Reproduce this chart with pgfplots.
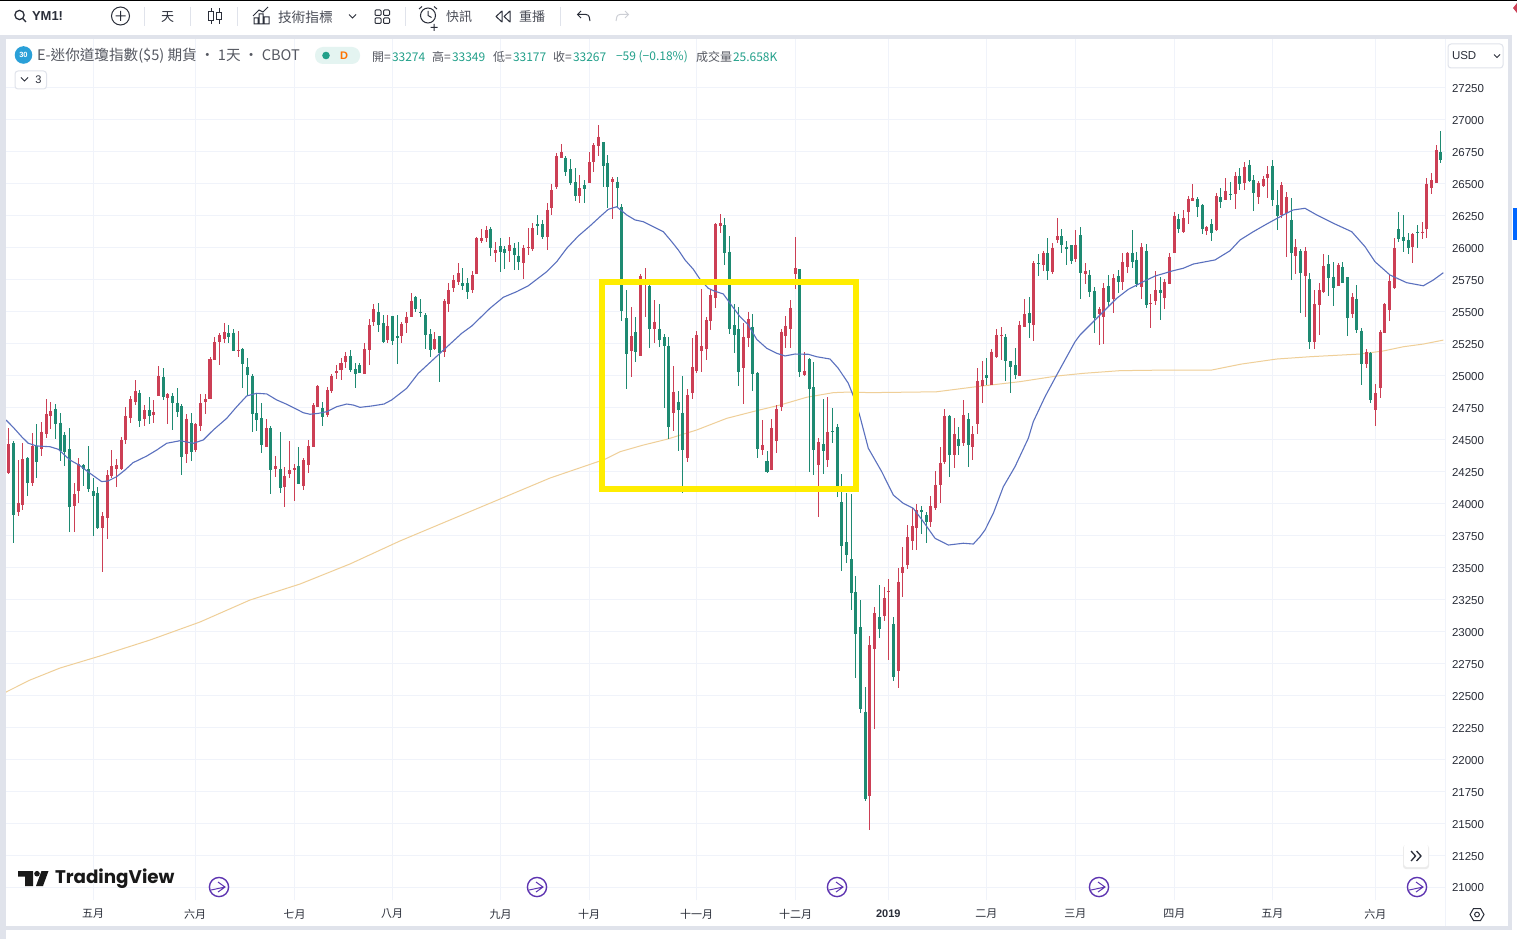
\documentclass[border=0pt]{standalone}
\usepackage{fontspec}
\usepackage{pgfplots}
\usepackage{pgfplotstable}
\pgfplotsset{compat=1.18}
\setmainfont{Liberation Sans}
\newfontfamily\cjk{Noto Sans CJK TC}
\newfontfamily\logofont{Poppins}
\definecolor{upred}{HTML}{CC3F55}
\definecolor{dngreen}{HTML}{1E8A72}
\definecolor{maBlue}{HTML}{5A70BE}
\definecolor{maTan}{HTML}{EFCF98}
\definecolor{gridc}{HTML}{F0F3FA}
\definecolor{band}{HTML}{E0E3EB}
\definecolor{ink}{HTML}{2A2E39}
\definecolor{purp}{HTML}{5E35B1}
\definecolor{valc}{HTML}{22A08A}
\definecolor{sepc}{HTML}{E0E3EB}
\definecolor{badge}{HTML}{2AA0D8}

% x hi top bot lo, x is the pixel column of the bar
\pgfplotstableread{
x hi top bot lo
8.3 24588 24465 24236 24230
18.3 24340 24006 23936 23902
22.7 24470 24348 23988 23949
32.3 24548 24449 24157 24136
41.7 24637 24561 24426 24374
46.3 24817 24700 24543 24509
50.7 24796 24723 24684 24580
74.3 24157 24074 23980 23779
78.7 24353 24309 24097 24001
102.3 23936 23902 23808 23467
107.3 24262 24223 23889 23719
111.7 24418 24293 24215 24196
116.7 24345 24301 24267 24131
121.7 24522 24496 24267 24262
125.7 24757 24684 24496 24465
130.3 24840 24817 24666 24627
135.3 24966 24880 24796 24770
144.3 24770 24731 24660 24606
153.3 24809 24713 24692 24627
158.3 25075 24997 24843 24843
167.7 24861 24853 24827 24621
186.7 24700 24663 24387 24319
195.7 24627 24621 24418 24405
200.7 24856 24783 24606 24569
205.3 24856 24817 24796 24700
210 25148 25127 24814 24814
214.7 25304 25260 25122 25122
219.7 25336 25317 25265 25083
224.3 25409 25338 25286 25252
238.3 25349 25200 25195 25148
266.3 24658 24590 24444 24439
275.3 24371 24293 24270 24210
284.7 24288 24215 24126 23975
289.3 24488 24262 24231 24202
294.3 24309 24278 24262 24022
303.7 24353 24340 24139 24105
308.3 24496 24449 24301 24236
313.3 24783 24770 24444 24444
317.7 24926 24919 24757 24752
327.3 24913 24887 24692 24679
331.7 25012 24997 24882 24866
336.3 25083 25036 25018 24971
341 25136 25096 25045 24966
345.3 25188 25154 25104 25058
364.3 25258 25211 25013 25013
369.3 25441 25396 25201 25084
373.3 25561 25521 25423 25391
387.7 25475 25389 25279 25253
401.7 25423 25404 25310 25258
406.7 25498 25462 25415 25331
411.3 25649 25587 25456 25456
434.3 25344 25287 25206 25201
444.3 25597 25587 25188 25143
448.7 25722 25670 25561 25501
453.3 25787 25748 25683 25657
458.3 25879 25800 25735 25709
472.3 25819 25787 25670 25649
476.7 26082 26074 25795 25795
481.3 26145 26074 26056 26040
486.3 26170 26139 26074 26048
495.3 26043 25983 25962 25892
509.7 26087 26022 25975 25892
523.3 26022 25996 25879 25756
528.3 26152 26004 25996 25944
532.7 26191 26155 25988 25978
547.7 26348 26296 26087 25983
551.7 26497 26452 26309 26257
556.7 26739 26718 26478 26457
561.7 26812 26747 26705 26705
579.7 26569 26465 26405 26353
589.7 26752 26669 26510 26504
593.7 26822 26804 26674 26595
598.7 26961 26869 26796 26718
612.7 26556 26538 26512 26223
631.3 25534 25310 25196 24987
640.3 25795 25780 25157 25157
645.3 25840 25722 25710 25456
654.3 25592 25422 25365 25258
673.3 25075 24875 24711 24570
687.3 24893 24849 24359 24327
692.3 25292 25065 24867 24818
696.7 25349 25318 25039 25024
701.3 25678 25232 25196 25031
706.7 25456 25435 25209 25123
710.3 25670 25631 25430 25357
715.3 26197 26186 25610 25532
720.3 26264 26192 26171 26113
743.3 25415 25305 25063 24778
748.3 25495 25443 25297 25227
762.3 24653 24458 24419 24380
771.3 24659 24591 24262 24262
776.3 24771 24737 24492 24398
781.7 25365 25344 24752 24726
785.3 25469 25389 25313 25214
790.3 25592 25532 25365 25214
795.3 26082 25840 25795 25678
804.3 25183 25037 25005 24997
818.3 24510 24479 24301 23892
827.3 24836 24557 24340 24288
869.3 22964 22893 21713 21447
874.3 23188 23141 22862 22236
884.3 23345 23259 23120 23084
888.3 23410 23316 23311 22776
898.3 23493 23386 22693 22560
902.3 23662 23506 23459 23271
907.3 23832 23736 23519 23487
912.3 23962 23825 23710 23637
916.3 23994 23949 23811 23637
930.3 24061 23981 23858 23819
935.3 24254 24145 23962 23949
940.3 24440 24314 24145 24007
944.3 24740 24685 24328 24307
954.3 24666 24544 24380 24275
963.3 24810 24692 24471 24450
972.7 24607 24544 24445 24341
977.3 25057 24958 24622 24541
982.3 25118 24966 24919 24789
991.3 25209 25188 24927 24927
996.3 25362 25318 25149 25141
1001.3 25383 25318 25313 25123
1019.3 25430 25396 25000 25000
1024.3 25600 25482 25383 25378
1033.3 25897 25879 25399 25274
1043.3 25975 25962 25866 25821
1052.3 26035 26001 25813 25795
1057.3 26231 26092 26061 26040
1075.3 26139 26022 25910 25892
1085.3 25879 25819 25795 25717
1099.3 25540 25521 25480 25240
1103.3 25722 25683 25462 25248
1113.3 25795 25761 25600 25493
1122.3 25957 25886 25735 25670
1127.3 25970 25962 25847 25806
1141.3 26035 26004 25691 25600
1150.3 25636 25568 25563 25375
1155.3 25819 25670 25587 25553
1164.3 25753 25735 25610 25521
1169.3 25957 25931 25720 25720
1174.3 26277 26249 25962 25962
1183.3 26296 26231 26126 26118
1188.3 26405 26385 26278 26186
1192.3 26499 26387 26366 26366
1206.7 26171 26160 26134 26100
1216.7 26431 26405 26137 26132
1225.7 26544 26444 26374 26374
1235.7 26590 26564 26421 26304
1244.3 26674 26635 26510 26452
1258.3 26525 26510 26395 26343
1263.3 26562 26536 26483 26478
1267.7 26643 26577 26546 26387
1281.7 26517 26491 26257 26231
1286.7 26439 26395 26270 25931
1295.7 26066 26006 25939 25796
1305.3 26004 25978 25780 25462
1314.3 25670 25561 25266 25209
1319.3 25722 25670 25553 25318
1323.3 25949 25858 25657 25649
1338.3 25884 25866 25704 25704
1352.3 25649 25618 25482 25454
1366.3 25206 25188 25088 25058
1375.3 24933 24862 24732 24609
1380.3 25357 25344 24901 24823
1384.3 25571 25558 25336 25331
1389.3 25795 25741 25514 25428
1394.3 26074 25996 25683 25678
1412.7 26118 26108 26006 25884
1422.3 26205 26126 26118 26066
1426.7 26544 26499 26147 26074
1431.7 26583 26530 26465 26421
1436.7 26804 26765 26510 26504
}\redbars

\pgfplotstableread{
x hi top bot lo
13.3 24491 24475 23910 23693
27.3 24366 24358 24157 24058
36.7 24619 24449 24324 24196
55.3 24775 24741 24621 24501
60.3 24705 24632 24410 24335
64.3 24561 24538 24405 24293
69.3 24587 24426 23975 23779
83.3 24309 24303 24267 24136
88.3 24449 24270 24110 24092
93.3 24196 24097 24058 23748
97.7 24131 24084 23805 23797
139.3 24887 24866 24645 24601
149.3 24830 24731 24687 24621
163.3 25057 24992 24830 24809
172.3 24861 24840 24788 24574
177.3 24900 24788 24718 24674
181.7 24775 24762 24366 24222
191.3 24705 24627 24405 24335
228.7 25396 25330 25304 25252
233.3 25362 25336 25195 25195
242.3 25218 25211 25091 24900
247.3 25135 25067 25005 24840
252.3 25012 24997 24700 24561
256.3 24861 24705 24653 24569
261.3 24783 24666 24457 24397
270.3 24606 24590 24262 24074
280.3 24556 24270 24118 24079
298.3 24444 24293 24152 24149
322.3 24796 24744 24679 24608
350.3 25201 25154 25045 25032
355.3 25102 25053 25013 24906
359.7 25097 25081 25018 25018
378.3 25566 25498 25396 25344
383.3 25475 25410 25266 25258
392.3 25467 25467 25271 25240
397.3 25475 25310 25297 25089
415.7 25623 25618 25519 25501
420.3 25597 25498 25488 25456
425.3 25493 25475 25318 25209
430.3 25362 25326 25201 25143
439.3 25310 25310 25175 24953
462.3 25840 25722 25704 25670
467.3 25761 25728 25655 25602
490.3 26160 26150 25996 25939
500.3 26074 26014 25965 25813
504.7 26014 25988 25962 25834
514.3 26035 25996 25944 25827
518.7 26048 25936 25892 25827
537.7 26257 26184 26173 26100
542.7 26218 26184 26082 26066
565.7 26718 26705 26590 26562
570.7 26692 26617 26504 26491
575.7 26622 26515 26405 26366
584.7 26530 26491 26460 26348
603.7 26830 26825 26640 26478
607.7 26726 26661 26478 26309
617.7 26551 26517 26470 26317
621.7 26340 26319 25506 25430
626.7 25670 25449 25170 24893
635.7 25462 25339 25188 25110
649.7 25709 25704 25365 25214
659.3 25561 25365 25279 25222
664.3 25323 25300 25235 24745
668.3 25305 25235 24596 24505
678.3 24880 24797 24732 24413
682.7 25000 24711 24419 24085
724.7 26231 26178 25962 25866
729.3 26092 25970 25365 25326
734.3 25561 25396 25318 25180
738.7 25534 25365 25029 24919
752.7 25480 25383 25013 24883
757.3 25031 25023 24427 24354
767 24414 24333 24244 24236
799.3 25832 25832 25031 24992
809.7 25136 25130 24898 24249
813.3 25104 24909 24419 24223
823.3 24818 24466 24413 24228
832.3 24745 24567 24562 24471
837.3 24622 24596 24137 24053
841.7 24231 24012 23670 23475
846.3 24080 23696 23597 23532
851.3 24072 23564 23303 23167
855.3 23433 23306 22980 22638
860.3 23245 23034 22390 22364
865.3 22562 22370 21689 21676
879.3 23363 23110 23019 22951
893.3 23115 23058 22646 22615
921.3 23983 23949 23936 23762
926.3 23936 23910 23858 23694
949.3 24693 24687 24380 24210
958.3 24601 24505 24453 24380
968.3 24706 24661 24458 24283
986.3 25136 25005 24984 24927
1005.7 25323 25305 25115 24958
1010.3 25115 25112 25070 24862
1015.3 25214 25083 25005 24974
1029.3 25613 25488 25415 25297
1038.3 25952 25879 25871 25780
1047.3 26074 25957 25821 25748
1061.3 26147 26092 26022 25957
1066.3 26053 26009 25991 25866
1071.3 26022 26019 25897 25873
1080.3 26160 26100 25806 25600
1089.3 25827 25787 25657 25618
1094.3 25696 25662 25449 25336
1108.3 25787 25701 25579 25535
1118.3 25827 25780 25735 25649
1132.3 26139 25957 25892 25840
1136.3 25970 25905 25717 25696
1146.3 26027 25975 25553 25527
1160.3 25769 25670 25649 25435
1178.3 26265 26225 26145 26118
1197.3 26400 26379 26317 26244
1202.3 26343 26335 26150 26105
1211.7 26223 26186 26119 26056
1220.7 26465 26397 26361 26309
1230.7 26517 26421 26413 26374
1239.7 26622 26564 26499 26452
1249.3 26687 26648 26525 26517
1253.7 26570 26530 26429 26291
1272.3 26687 26640 26374 26330
1277.3 26452 26335 26249 26140
1291.7 26387 26218 25962 25749
1300.7 25988 25978 25806 25493
1309.7 25806 25754 25266 25209
1328.3 25944 25873 25767 25623
1333.3 25892 25775 25688 25548
1342.3 25892 25852 25727 25722
1347.3 25775 25769 25454 25313
1356.3 25709 25600 25357 25331
1361.3 25370 25352 25091 24927
1370.3 25188 25175 24810 24789
1398.3 26278 26147 26069 26048
1403.3 26257 26087 26053 25970
1408.3 26113 26061 25996 25952
1417.3 26176 26126 26118 26001
1440.3 26914 26747 26687 26666
}\greenbars

\pgfdeclareplotmark{evt}{%
  \pgfsetlinewidth{1.4pt}
  \pgfpathcircle{\pgfpointorigin}{9.6pt}\pgfusepathqstroke
  \pgfsetlinewidth{1pt}
  \pgfpathmoveto{\pgfpoint{-8pt}{-3pt}}\pgfpathlineto{\pgfpoint{6pt}{0pt}}
  \pgfpathmoveto{\pgfpoint{-1pt}{5pt}}\pgfpathlineto{\pgfpoint{6pt}{0pt}}\pgfpathlineto{\pgfpoint{-1pt}{-5pt}}
  \pgfusepathqstroke
}

\begin{document}
\begin{tikzpicture}[x=1pt,y=-1pt,every node/.style={inner sep=0pt,outer sep=0pt}]
\useasboundingbox (0,0) rectangle (1517,939);
\fill[white] (0,0) rectangle (1517,939);
\begin{axis}[
    at={(6pt,-900pt)}, anchor=south west,
    scale only axis, width=1439pt, height=862pt,
    xmin=6, xmax=1445, ymin=20898.5, ymax=27641,
    axis line style={draw=none},
    major tick length=0pt,
    grid=major, grid style={gridc, line width=1pt},
    ytick={21000,21250,21500,21750,22000,22250,22500,22750,23000,23250,23500,23750,24000,24250,24500,24750,25000,25250,25500,25750,26000,26250,26500,26750,27000,27250},
    yticklabel pos=right,
    y tick label style={font=\fontsize{11.5}{12}\selectfont, text=ink, anchor=west, xshift=7pt, yshift=-1pt},
    /pgf/number format/assume math mode=true,
    /pgf/number format/1000 sep={},
    scaled y ticks=false,
    xtick={93,195,294.5,392,500.5,589,696.7,795.5,888.3,986.3,1075.3,1174.3,1272.3,1375.3},
    xticklabels={五月,六月,七月,八月,九月,十月,十一月,十二月,{\fontspec{Liberation Sans}\bfseries 2019},二月,三月,四月,五月,六月},
    x tick label style={font=\cjk\fontsize{11}{12}\selectfont, text=ink, anchor=center, yshift=-14pt},
]
% tan long average
\addplot[maTan, line width=1pt, no marks] coordinates {
(6,22525) (30,22619) (60,22713) (100,22807) (150,22932) (200,23073) (250,23245) (300,23370)
(350,23527) (400,23707) (450,23871) (500,24035) (550,24199) (605,24346) (620,24405) (643.3,24457)
(666.7,24502) (696.7,24575) (726.7,24666) (756.7,24726) (780,24770) (806.7,24831) (833.3,24867)
(850,24872) (870,24867) (920,24872) (936.7,24874) (976.7,24914) (1020,24953) (1056.7,24997)
(1083.3,25018) (1120,25039) (1170,25044) (1211.7,25044) (1241.7,25091) (1276.7,25130) (1310,25148)
(1360,25169) (1383.3,25193) (1403.3,25226) (1423.3,25247) (1443.3,25278)
};
% wicks
\addplot[no marks, draw=none, error bars/.cd, y dir=both, y explicit, error mark=none,
    error bar style={draw=upred, line width=1pt}]
    table[x=x, y=top, y error plus expr=\thisrow{hi}-\thisrow{top}, y error minus expr=\thisrow{top}-\thisrow{lo}] {\redbars};
\addplot[no marks, draw=none, error bars/.cd, y dir=both, y explicit, error mark=none,
    error bar style={draw=dngreen, line width=1pt}]
    table[x=x, y=top, y error plus expr=\thisrow{hi}-\thisrow{top}, y error minus expr=\thisrow{top}-\thisrow{lo}] {\greenbars};
% bodies
\addplot[no marks, draw=none, error bars/.cd, y dir=minus, y explicit, error mark=none,
    error bar style={draw=upred, line width=3.2pt}]
    table[x=x, y=top, y error minus expr=\thisrow{top}-\thisrow{bot}] {\redbars};
\addplot[no marks, draw=none, error bars/.cd, y dir=minus, y explicit, error mark=none,
    error bar style={draw=dngreen, line width=3.2pt}]
    table[x=x, y=top, y error minus expr=\thisrow{top}-\thisrow{bot}] {\greenbars};
% blue average
\addplot[maBlue, line width=1.1pt, no marks] coordinates {
(6,24653) (13,24598) (21.7,24522) (28.3,24471) (36.7,24450) (50,24444) (58.3,24424) (70,24340)
(80,24296) (90,24236) (101.7,24171) (108,24176) (116.7,24210) (125,24262) (133,24319) (146.7,24371)
(156.7,24418) (166.7,24471) (180,24491) (193.3,24471) (203.3,24497) (213.3,24575) (226.7,24666)
(236.7,24757) (246.7,24841) (256.7,24862) (266.7,24857) (276.7,24810) (286.7,24776) (296.7,24737)
(303.3,24710) (310,24698) (318.3,24705) (326.7,24718) (336.7,24757) (346.7,24778) (353.3,24770)
(360,24752) (372,24763) (384,24778) (391.7,24810) (406.7,24901) (418.3,25018) (440,25175)
(461.7,25331) (471.7,25388) (490,25527) (503.3,25613) (516.7,25657) (528.3,25703) (546.7,25813)
(556.7,25891) (566.7,25996) (578.3,26092) (590,26171) (600,26243) (608.3,26301) (616.7,26321)
(626.7,26257) (635,26218) (643.3,26204) (653.3,26165) (663.3,26126) (671.7,26048) (678.3,25983)
(685,25905) (693.3,25832) (700,25754) (708.3,25683) (713.3,25665) (723.3,25639) (730,25566)
(740,25461) (748.3,25396) (756.7,25284) (766.7,25214) (776.7,25175) (785,25154) (795,25169)
(808.3,25167) (816.7,25148) (830,25130) (838.3,25057) (848.3,24940) (855,24809) (860,24679)
(868.3,24432) (881.7,24249) (893.3,24066) (903.3,24001) (913.3,23962) (923.3,23858) (935,23728)
(948.3,23675) (963.3,23689) (973.3,23683) (980,23740) (985,23793) (993.3,23923) (1003.3,24131)
(1015,24288) (1028.3,24510) (1033.3,24640) (1045,24835) (1056.7,25005) (1075,25265) (1080,25318)
(1093.3,25422) (1106.7,25527) (1116.7,25605) (1128.3,25675) (1143.3,25735) (1155,25779) (1173.3,25821)
(1183.3,25840) (1193.3,25873) (1215,25905) (1230,25977) (1240,26061) (1253.3,26126) (1266.7,26186)
(1283.3,26257) (1293.3,26296) (1305,26309) (1316.7,26257) (1333.3,26192) (1351.7,26126) (1365,26009)
(1375,25891) (1390,25787) (1406.7,25727) (1423.3,25703) (1433.3,25748) (1443.3,25805)
};
% event markers on the bottom row
\addplot[only marks, mark=evt, purp] coordinates {(219,21000) (537,21000) (837,21000) (1099,21000) (1417,21000)};
\end{axis}

% highlighted box
\draw[yellow!95!orange, line width=5.6pt, line join=miter] (602,282) rectangle (856,489);

% frame bands
\fill[black] (0,0) rectangle (1517,1.5);
\fill[band] (0,35) rectangle (1512,39);
\fill[band] (0,39) rectangle (5.5,939);
\fill[band] (1508,39) rectangle (1512,928);
\fill[band] (5,926) rectangle (1512,929.5);
\draw[gridc, line width=1pt] (1445,39) -- (1445,926);

% toolbar
\draw[ink, line width=1.3pt] (19.5,15) circle (4.6) (22.8,18.5) -- (26,22);
\node[anchor=west, font=\fontsize{13}{14}\selectfont\bfseries, text=ink] at (32,16.5) {YM1!};
\draw[ink, line width=1pt] (120.5,16) circle (9) (115.5,16) -- (125.5,16) (120.5,11) -- (120.5,21);
\foreach \sx in {144,190,237,405.6,560} \draw[sepc, line width=1pt] (\sx,7) -- (\sx,26);
\node[font=\cjk\fontsize{13}{14}\selectfont, text=ink] at (167.5,17) {天};
\draw[ink, line width=1pt] (211,8.5) -- (211,24) (219,8.5) -- (219,24);
\draw[ink, fill=white, line width=1pt] (208.5,11.5) rectangle (213.5,20.5) (216.5,13) rectangle (221.5,20);
\draw[ink, line width=1pt] (254,24) rectangle (258,18) (259,24) rectangle (263,14) (264,24) rectangle (269,17)
    (253,16) -- (259,10) -- (263,12) -- (268,7);
\node[anchor=west, font=\cjk\fontsize{13.7}{14}\selectfont, text=ink!85] at (278,17) {技術指標};
\draw[ink, line width=1pt] (349,14.5) -- (352.5,18) -- (356,14.5);
\draw[ink, line width=1pt, rounded corners=1pt] (375,10) rectangle (381,15.5) (383.5,10) rectangle (389.5,15.5) (375,18) rectangle (381,23.5) (383.5,18) rectangle (389.5,23.5);
\draw[ink, line width=1pt] (428,15.5) circle (7.5) (428,11) -- (428,15.5) -- (431.5,17.5) (419,9) -- (422,6.5) (437,9) -- (434,6.5) (434,24) -- (434,31) (430.5,27.5) -- (437.5,27.5);
\node[anchor=west, font=\cjk\fontsize{13}{14}\selectfont, text=ink!85] at (446,17) {快訊};
\draw[ink, line width=1pt, line join=round] (502,11) -- (496,16.5) -- (502,22) -- cycle (510,11) -- (504,16.5) -- (510,22) -- cycle;
\node[anchor=west, font=\cjk\fontsize{13}{14}\selectfont, text=ink!85] at (519,17) {重播};
\draw[ink, line width=1pt] (581,11) -- (577.5,14.5) -- (581,18) (577.5,14.5) -- (586,14.5) to[out=0,in=90] (590,21);
\draw[sepc!80!gray, line width=1pt] (625,11) -- (628.5,14.5) -- (625,18) (628.5,14.5) -- (620,14.5) to[out=180,in=90] (616,21);
\fill[upred] (1517,3) -- (1513,8) -- (1517,13) -- cycle;
\fill[blue!60!cyan] (1513,208) rectangle (1517,240);

% legend row
\fill[badge] (23.5,55) circle (8.8);
\node[text=white, font=\fontsize{7.5}{8}\selectfont\bfseries] at (23.5,55.2) {30};
\node[anchor=west, text=ink!80, font=\cjk\fontsize{14.6}{15}\selectfont] at (37,56) {E-迷你道瓊指數(\$5) 期貨 · 1天 · CBOT};
\fill[valc!12, rounded corners=8pt] (315,47) rectangle (360,64);
\fill[valc] (326,55.5) circle (3.8);
\node[text=orange!90!red, font=\fontsize{11}{12}\selectfont\bfseries] at (344,55.5) {D};
\begin{scope}[every node/.append style={anchor=west, font=\cjk\fontsize{12}{13}\selectfont}]
\node[text=ink!80] at (372,57) {開=};
\node[text=valc] at (392,57) {33274};
\node[text=ink!80] at (432,57) {高=};
\node[text=valc] at (452,57) {33349};
\node[text=ink!80] at (493,57) {低=};
\node[text=valc] at (513,57) {33177};
\node[text=ink!80] at (553,57) {收=};
\node[text=valc] at (573,57) {33267};
\node[text=valc] at (616,57) {−59 (−0.18\%)};
\node[text=ink!80] at (696,57) {成交量};
\node[text=valc] at (733,57) {25.658K};
\end{scope}
\draw[band, line width=1pt, rounded corners=3pt, fill=white] (15,71) rectangle (46.5,89);
\draw[ink, line width=1pt] (21,77.5) -- (24.5,81) -- (28,77.5);
\node[text=ink, font=\fontsize{11}{12}\selectfont] at (38.5,80) {3};

% currency box
\draw[band, line width=1pt, rounded corners=3pt, fill=white] (1448,44) rectangle (1503,68);
\node[anchor=west, text=ink, font=\fontsize{11.5}{12}\selectfont] at (1452,56) {USD};
\draw[ink, line width=1pt] (1494,54.5) -- (1497,57.5) -- (1500,54.5);

% watermark logo
\fill[black!90] (18,871) rectangle (33,876.5) (25,876.5) rectangle (33,886);
\fill[black!90] (37,873.7) circle (2.8);
\fill[black!90] (41.5,871) -- (48.5,871) -- (43,886) -- (36,886) -- cycle;
\node[anchor=west, text=black!90, font=\logofont\bfseries\fontsize{18.3}{21}\selectfont] at (55,879) {TradingView};

% scroll button and settings
\fill[black!8, rounded corners=3pt] (1403,845) rectangle (1429,869);
\fill[white, rounded corners=3pt] (1404,844) rectangle (1428,867);
\draw[ink, line width=1.3pt] (1411,851) -- (1415.5,856) -- (1411,861) (1416.5,851) -- (1421,856) -- (1416.5,861);
\draw[ink, line width=1pt] (1484,914.5) -- (1480.5,920.5) -- (1473.5,920.5) -- (1470,914.5) -- (1473.5,908.5) -- (1480.5,908.5) -- cycle;
\draw[ink, line width=1pt] (1477,914.5) circle (2.4);
\end{tikzpicture}
\end{document}
